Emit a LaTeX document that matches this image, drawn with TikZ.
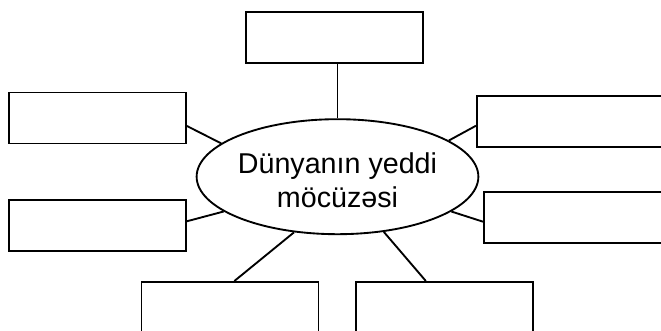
\documentclass[tikz,border=0pt]{standalone}
\usepackage{fontspec}
\setmainfont{Liberation Sans}
\usetikzlibrary{shapes.geometric}
\begin{document}
\begin{tikzpicture}[x=0.75pt,y=-0.75pt,
    box/.style={draw, line width=1.4pt, minimum width=132.75pt, minimum height=38.25pt, inner sep=0pt},
    bubble/.style={ellipse, draw, line width=1.4pt, minimum width=178.5pt, minimum height=86.25pt, inner sep=0pt, align=center, font=\fontsize{21.5}{25.5}\selectfont},
    link/.style={line width=1.4pt}]
    \useasboundingbox (0,0) rectangle (661,331);
    \clip (0,0) rectangle (661,331);
    \node[bubble] (wonders) at (337.5,176.7) {\rule{0pt}{20.5pt}Dünyanın yeddi\\möcüzəsi};
    \node[box] (top) at (334.5,37.5) {};
    \node[box] (leftup) at (97.5,118) {};
    \node[box] (leftdown) at (97.5,225.8) {};
    \node[box, minimum width=180pt, anchor=west] (rightup) at (476,121.2) {};
    \node[box, minimum width=180pt, anchor=west] (rightdown) at (483,217.7) {};
    \node[box, minimum height=50pt, anchor=north] (downleft) at (230,281) {};
    \node[box, minimum height=50pt, anchor=north] (downright) at (444.5,281) {};
    \draw[link] (wonders.north) -- (wonders.north |- top.south);
    \draw[link] (wonders.164.5) -- ([yshift=-6pt]leftup.east);
    \draw[link] (wonders.197.8) -- ([yshift=3.4pt]leftdown.east);
    \draw[link] (wonders.18.4) -- ([yshift=-3.4pt]rightup.west);
    \draw[link] (wonders.-17.3) -- ([yshift=-3pt]rightdown.west);
    \draw[link] (wonders.232.4) -- ([xshift=3.3pt]downleft.north);
    \draw[link] (wonders.310) -- ([xshift=-14pt]downright.north);
\end{tikzpicture}
\end{document}
